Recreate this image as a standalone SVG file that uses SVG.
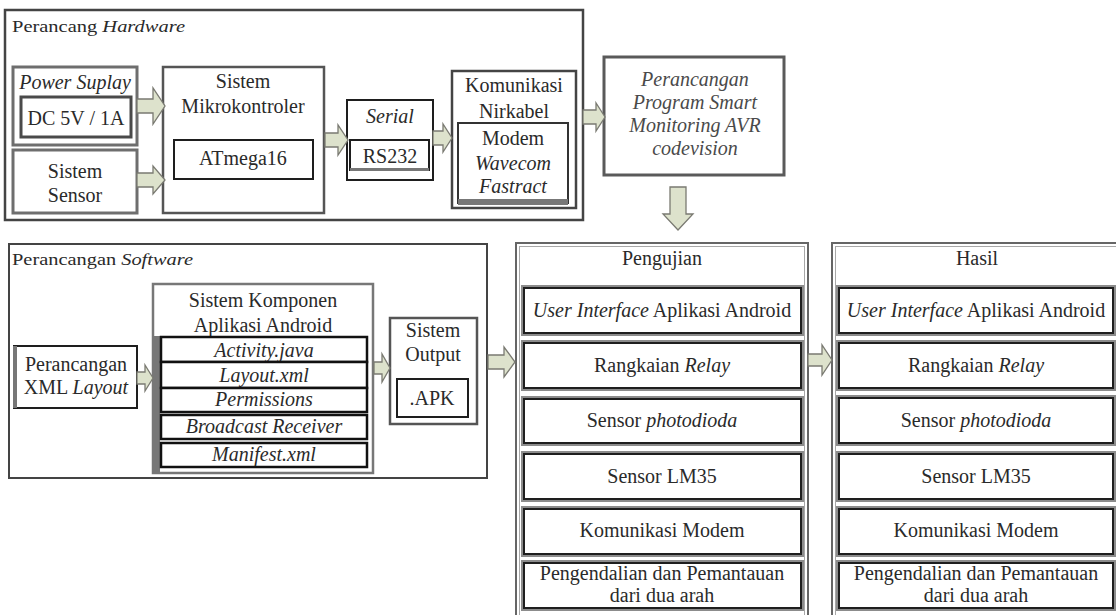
<svg xmlns="http://www.w3.org/2000/svg" width="1116" height="615" viewBox="0 0 1116 615">
<style>
text{font-family:'Liberation Serif','Times New Roman',Times,'DejaVu Serif','Noto Serif',serif;font-size:20px;fill:#2a2a2a}
.c{text-anchor:middle}
.i{font-style:italic}
.ttl{font-size:17px}
.box{fill:#fff}
.k{stroke:#1e1e1e;stroke-width:2}
.r{fill:#fff;stroke:#8c8c8c;stroke-width:4}
.g{stroke:#6e6e6e;stroke-width:3}
.d{stroke:#444;stroke-width:2.5}
.lg{fill:none;stroke:#a8a8a8;stroke-width:1}
.arr{fill:#dde2cc;stroke:#7a7a72;stroke-width:1.3;stroke-linejoin:miter}
.bar{fill:#777;stroke:none}
.soft{fill:#4a4a4a}
</style>
<rect width="1116" height="615" fill="#fff"/>

<g id="hardware">
<rect class="box d" x="5" y="10" width="578" height="210"/>
<text x="12" y="32" class="ttl" textLength="173" lengthAdjust="spacingAndGlyphs">Perancang <tspan class="i">Hardware</tspan></text>
</g>
<g id="power-suplay">
<rect class="box g" x="13" y="67" width="124" height="78"/>
<text x="75" y="89" class="c i">Power Suplay</text>
<rect class="box" x="21" y="97" width="110" height="40" stroke="#4a4a4a" stroke-width="3"/>
<text x="76" y="125" class="c">DC 5V / 1A</text>
</g>
<g id="sistem-sensor">
<rect class="box g" x="13" y="150" width="124" height="63"/>
<text x="75" y="178" class="c">Sistem</text>
<text x="75" y="202" class="c">Sensor</text>
</g>
<g id="mikrokontroler">
<rect class="box" x="163" y="67" width="161" height="146" stroke="#555" stroke-width="2.5"/>
<text x="243" y="88" class="c">Sistem</text>
<text x="243" y="113" class="c">Mikrokontroler</text>
<rect class="box k" x="174" y="140" width="139" height="39"/>
<text x="243" y="165" class="c">ATmega16</text>
</g>
<g id="serial">
<rect class="box k" x="347" y="100" width="86" height="80"/>
<text x="390" y="123" class="c i">Serial</text>
<rect class="box k" x="350" y="140" width="79" height="30"/>
<rect class="bar" x="350" y="168" width="79" height="3"/>
<text x="390" y="163" class="c">RS232</text>
</g>
<g id="komunikasi">
<rect class="box d" x="452" y="71" width="124" height="137"/>
<text x="514" y="92" class="c">Komunikasi</text>
<text x="514" y="118" class="c">Nirkabel</text>
<rect class="box" x="458" y="123" width="110" height="80" stroke="#333" stroke-width="2"/>
<rect class="bar" x="458" y="199" width="110" height="6"/>
<text x="513" y="145" class="c">Modem</text>
<text x="513" y="170" class="c i">Wavecom</text>
<text x="513" y="193" class="c i">Fastract</text>
</g>
<g id="program-avr">
<rect class="box" x="604" y="57" width="180" height="118" stroke="#5a5a5a" stroke-width="3"/>
<text x="695" y="86" class="c i soft">Perancangan</text>
<text x="695" y="109" class="c i soft">Program Smart</text>
<text x="695" y="132" class="c i soft">Monitoring AVR</text>
<text x="695" y="155" class="c i soft">codevision</text>
</g>

<g id="software">
<rect class="box" x="9" y="244" width="478" height="234" stroke="#444" stroke-width="2"/>
<text x="12" y="265" class="ttl" textLength="181" lengthAdjust="spacingAndGlyphs">Perancangan <tspan class="i">Software</tspan></text>
</g>
<g id="xml-layout">
<rect class="box k" x="14" y="346" width="123" height="62"/>
<rect class="bar" x="13" y="346" width="4" height="62"/>
<text x="76" y="371" class="c">Perancangan</text>
<text x="76" y="394" class="c">XML <tspan class="i">Layout</tspan></text>
</g>
<g id="komponen-android">
<rect class="box" x="153" y="284" width="220" height="189" stroke="#777" stroke-width="2.5"/>
<rect class="bar" x="152" y="336" width="8" height="137"/>
<text x="263" y="307" class="c">Sistem Komponen</text>
<text x="263" y="332" class="c">Aplikasi Android</text>
<rect class="box" x="161" y="337" width="206" height="25" stroke="#111" stroke-width="2.5"/>
<text x="264" y="357" class="c i">Activity.java</text>
<rect class="box" x="161" y="362" width="206" height="26" stroke="#111" stroke-width="2.5"/>
<text x="264" y="382" class="c i">Layout.xml</text>
<rect class="box" x="161" y="388" width="206" height="24" stroke="#111" stroke-width="2.5"/>
<text x="264" y="406" class="c i">Permissions</text>
<rect class="box" x="161" y="415" width="206" height="24" stroke="#111" stroke-width="2.5"/>
<text x="264" y="433" class="c i">Broadcast Receiver</text>
<rect class="box" x="161" y="443" width="206" height="24" stroke="#111" stroke-width="2.5"/>
<text x="264" y="461" class="c i">Manifest.xml</text>
</g>
<g id="sistem-output">
<rect class="box" x="390" y="318" width="87" height="106" stroke="#555" stroke-width="2.5"/>
<text x="433" y="337" class="c">Sistem</text>
<text x="433" y="361" class="c">Output</text>
<rect class="box k" x="397" y="379" width="71" height="38"/>
<text x="432" y="405" class="c">.APK</text>
</g>

<g id="pengujian">
<rect class="box" x="516" y="243" width="292" height="380" stroke="#666" stroke-width="2"/>
<rect class="lg" x="519.5" y="246.5" width="285" height="380"/>
<text x="662" y="265" class="c">Pengujian</text>
<rect class="r" x="523" y="287" width="279" height="47"/><rect class="box k" x="524" y="288" width="277" height="45"/>
<text x="662" y="317" class="c"><tspan class="i">User Interface</tspan> Aplikasi Android</text>
<rect class="r" x="523" y="342" width="279" height="47"/><rect class="box k" x="524" y="343" width="277" height="45"/>
<text x="662" y="372" class="c">Rangkaian <tspan class="i">Relay</tspan></text>
<rect class="r" x="523" y="398" width="279" height="46"/><rect class="box k" x="524" y="399" width="277" height="44"/>
<text x="662" y="427" class="c">Sensor <tspan class="i">photodioda</tspan></text>
<rect class="r" x="523" y="453" width="279" height="47"/><rect class="box k" x="524" y="454" width="277" height="45"/>
<text x="662" y="483" class="c">Sensor LM35</text>
<rect class="r" x="523" y="508" width="279" height="47"/><rect class="box k" x="524" y="509" width="277" height="45"/>
<text x="662" y="537" class="c">Komunikasi Modem</text>
<rect class="r" x="523" y="562" width="279" height="47"/><rect class="box k" x="524" y="563" width="277" height="45"/>
<text x="662" y="580" class="c">Pengendalian dan Pemantauan</text>
<text x="662" y="602" class="c">dari dua arah</text>
</g>

<g id="hasil">
<rect class="box" x="832" y="243" width="290" height="380" stroke="#666" stroke-width="2"/>
<rect class="lg" x="835.5" y="246.5" width="285" height="380"/>
<text x="977" y="265" class="c">Hasil</text>
<rect class="r" x="838" y="287" width="276" height="47"/><rect class="box k" x="839" y="288" width="274" height="45"/>
<text x="976" y="317" class="c"><tspan class="i">User Interface</tspan> Aplikasi Android</text>
<rect class="r" x="838" y="342" width="276" height="47"/><rect class="box k" x="839" y="343" width="274" height="45"/>
<text x="976" y="372" class="c">Rangkaian <tspan class="i">Relay</tspan></text>
<rect class="r" x="838" y="397" width="276" height="47"/><rect class="box k" x="839" y="398" width="274" height="45"/>
<text x="976" y="427" class="c">Sensor <tspan class="i">photodioda</tspan></text>
<rect class="r" x="838" y="453" width="276" height="47"/><rect class="box k" x="839" y="454" width="274" height="45"/>
<text x="976" y="483" class="c">Sensor LM35</text>
<rect class="r" x="838" y="508" width="276" height="47"/><rect class="box k" x="839" y="509" width="274" height="45"/>
<text x="976" y="537" class="c">Komunikasi Modem</text>
<rect class="r" x="838" y="562" width="276" height="47"/><rect class="box k" x="839" y="563" width="274" height="45"/>
<text x="976" y="580" class="c">Pengendalian dan Pemantauan</text>
<text x="976" y="602" class="c">dari dua arah</text>
</g>

<g id="connectors">
<path class="arr" d="M137,99 H153 V88 L165,106 L153,124 V113 H137 Z"/>
<path class="arr" d="M137,173 H153 V166 L165,180 L153,194 V187 H137 Z"/>
<path class="arr" d="M325,133 H338 V125 L348,140 L338,155 V147 H325 Z"/>
<path class="arr" d="M433,131 H443 V124 L452,138 L443,152 V145 H433 Z"/>
<path class="arr" d="M583,110 H596 V103 L605,117 L596,131 V124 H583 Z"/>
<path class="arr" d="M670,187 V214 H663 L678,230 L693,214 H686 V187 Z"/>
<path class="arr" d="M137,372 H145 V365 L153,378 L145,391 V384 H137 Z"/>
<path class="arr" d="M374,362 H382 V354 L390,368 L382,382 V374 H374 Z"/>
<path class="arr" d="M488,355 H504 V347 L515,362 L504,377 V369 H488 Z"/>
<path class="arr" d="M808,354 H822 V345 L832,360 L822,375 V366 H808 Z"/>
</g>
</svg>
